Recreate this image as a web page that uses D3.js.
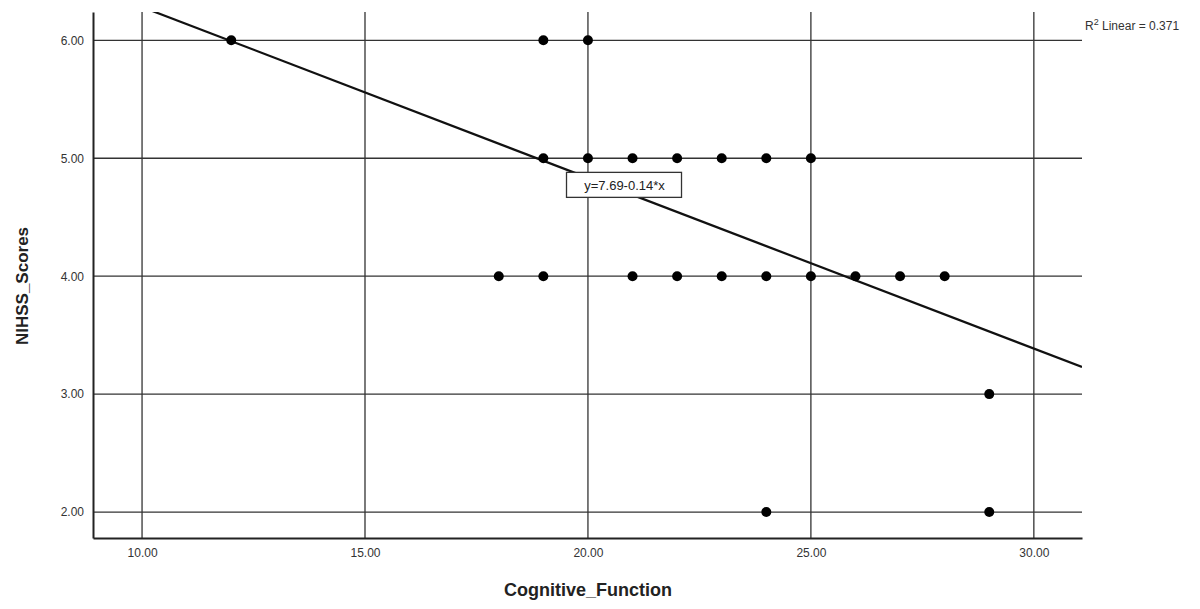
<!DOCTYPE html>
<html>
<head>
<meta charset="utf-8">
<script src="https://cdn.jsdelivr.net/npm/d3@7"></script>
<style>
  body { margin: 0; background: #fff; overflow: hidden; }
  svg { display: block; font-family: Arial, "Liberation Sans", sans-serif; }
</style>
</head>
<body>
<div id="chart"></div>
<script>
// scatter points
const cognitive = [12, 19, 20, 19, 20, 21, 22, 23, 24, 25, 18, 19, 21, 22, 23, 24, 25, 26, 27, 28, 29, 24, 29]
const nihss = [6, 6, 6, 5, 5, 5, 5, 5, 5, 5, 4, 4, 4, 4, 4, 4, 4, 4, 4, 4, 3, 2, 2]
const xTicks = [10, 15, 20, 25, 30]
const yTicks = [2, 3, 4, 5, 6]
// fit line as drawn (label rounds it)
const fitIntercept = 7.73
const fitSlope = -0.1448
const fitLabel = 'y=7.69-0.14*x'
const r2Label = '0.371'

const w = 1200
const h = 609
const margin = { top: 12, right: 118, bottom: 71, left: 93 }
const width = w - margin.left - margin.right
const height = h - margin.top - margin.bottom

const svg = d3.select('#chart').append('svg')
  .attr('width', w)
  .attr('height', h)

const x = d3.scaleLinear().domain([8.9, 31.08]).range([0, width])
const y = d3.scaleLinear().domain([1.78, 6.24]).range([height, 0])

const g = svg.append('g').attr('transform', 'translate(' + margin.left + ',' + margin.top + ')')

// grid lines
g.selectAll('.vgrid')
  .data(xTicks)
  .enter().append('line')
  .attr('x1', d => x(d)).attr('x2', d => x(d))
  .attr('y1', 0).attr('y2', height)
  .attr('stroke', '#333').attr('stroke-width', 1.3)

g.selectAll('.hgrid')
  .data(yTicks)
  .enter().append('line')
  .attr('x1', 0).attr('x2', width)
  .attr('y1', d => y(d)).attr('y2', d => y(d))
  .attr('stroke', '#333').attr('stroke-width', 1.3)

// axes
const xAxis = g.append('g')
  .attr('transform', 'translate(0,' + height + ')')
  .call(d3.axisBottom(x).tickValues(xTicks).tickSize(0).tickPadding(10).tickFormat(d3.format('.2f')))
xAxis.select('.domain').attr('stroke', '#222').attr('stroke-width', 2)
xAxis.selectAll('text').attr('font-size', 12).attr('fill', '#333')

const yAxis = g.append('g')
  .call(d3.axisLeft(y).tickValues(yTicks).tickSize(0).tickPadding(9).tickFormat(d3.format('.2f')))
yAxis.select('.domain').attr('stroke', '#222').attr('stroke-width', 2)
yAxis.selectAll('text').attr('font-size', 12).attr('fill', '#333')

// fit line, clipped to plot area
g.append('clipPath').attr('id', 'plot-clip')
  .append('rect').attr('width', width).attr('height', height)

const xs = x.domain()
g.append('line')
  .attr('clip-path', 'url(#plot-clip)')
  .attr('x1', x(xs[0])).attr('y1', y(fitIntercept + fitSlope * xs[0]))
  .attr('x2', x(xs[1])).attr('y2', y(fitIntercept + fitSlope * xs[1]))
  .attr('stroke', '#111').attr('stroke-width', 2.2)

// points
g.selectAll('circle')
  .data(cognitive.map((c, i) => ({ c: c, n: nihss[i] })))
  .enter().append('circle')
  .attr('cx', d => x(d.c))
  .attr('cy', d => y(d.n))
  .attr('r', 5)
  .attr('fill', '#000')

// equation label box
const lx = x(20.82)
const ly = y(4.77)
const lab = g.append('g').attr('transform', 'translate(' + lx + ',' + ly + ')')
lab.append('rect')
  .attr('x', -58).attr('y', -13).attr('width', 115).attr('height', 25)
  .attr('fill', '#fff').attr('stroke', '#333').attr('stroke-width', 1.3)
lab.append('text')
  .attr('text-anchor', 'middle').attr('dy', '0.35em')
  .attr('font-size', 13).attr('fill', '#222')
  .text(fitLabel)

// R2 label at top right
const r2 = svg.append('text')
  .attr('x', margin.left + width + 3).attr('y', 30)
  .attr('font-size', 12).attr('fill', '#333')
r2.append('tspan').text('R')
r2.append('tspan').attr('dy', -5).attr('font-size', 9).text('2')
r2.append('tspan').attr('dy', 5).text(' Linear = ' + r2Label)

// axis titles
svg.append('text')
  .attr('x', margin.left + x(20.0)).attr('y', 596)
  .attr('text-anchor', 'middle')
  .attr('font-size', 18).attr('font-weight', 'bold').attr('fill', '#222')
  .text('Cognitive_Function')

svg.append('text')
  .attr('transform', 'translate(28,' + (margin.top + height / 2 + 11) + ') rotate(-90)')
  .attr('text-anchor', 'middle')
  .attr('font-size', 17).attr('font-weight', 'bold').attr('fill', '#222')
  .text('NIHSS_Scores')
</script>
</body>
</html>
